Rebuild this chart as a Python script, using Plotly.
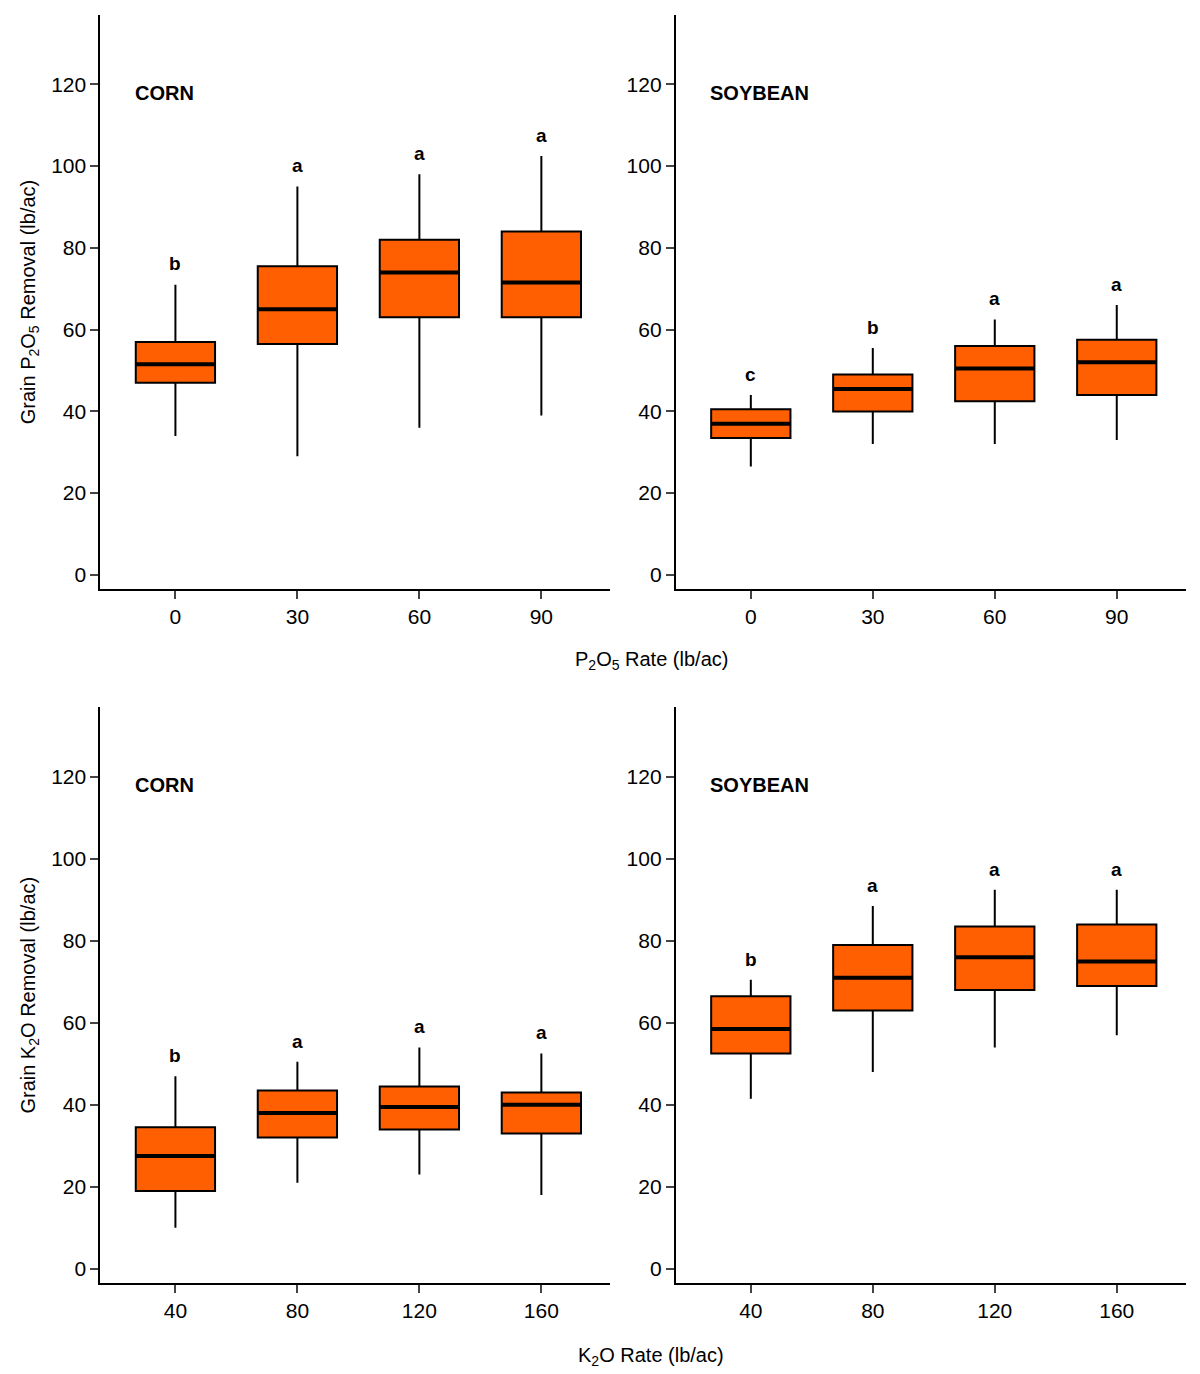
import plotly.graph_objects as go

p_rates = ["0", "30", "60", "90"]
k_rates = ["40", "80", "120", "160"]
panels = {
 "cornP": dict(lo=[34,29,36,39], q1=[47,56.5,63,63], med=[51.5,65,74,71.5], q3=[57,75.5,82,84], hi=[71,95,98,102.5], let=["b","a","a","a"], lab="CORN", ticks=p_rates),
 "soyP": dict(lo=[26.5,32,32,33], q1=[33.5,40,42.5,44], med=[37,45.5,50.5,52], q3=[40.5,49,56,57.5], hi=[44,55.5,62.5,66], let=["c","b","a","a"], lab="SOYBEAN", ticks=p_rates),
 "cornK": dict(lo=[10,21,23,18], q1=[19,32,34,33], med=[27.5,38,39.5,40], q3=[34.5,43.5,44.5,43], hi=[47,50.5,54,52.5], let=["b","a","a","a"], lab="CORN", ticks=k_rates),
 "soyK": dict(lo=[41.5,48,54,57], q1=[52.5,63,68,69], med=[58.5,71,76,75], q3=[66.5,79,83.5,84], hi=[70.5,88.5,92.5,92.5], let=["b","a","a","a"], lab="SOYBEAN", ticks=k_rates),
}
doms = {"cornP": ([0.077,0.502],[0.577,0.995]), "soyP": ([0.5565,0.9815],[0.577,0.995]),
        "cornK": ([0.077,0.502],[0.072,0.491]), "soyK": ([0.5565,0.9815],[0.072,0.491])}

fig = go.Figure()
shapes, annos = [], []
F = "Liberation Sans, Arial"
for i, (k, d) in enumerate(panels.items()):
    n = "" if i == 0 else str(i+1)
    xs = list(range(4))
    fig.add_trace(go.Box(x=xs, q1=d["q1"], median=d["med"], q3=d["q3"], lowerfence=d["lo"], upperfence=d["hi"],
                         width=0.65, fillcolor="#FF5F00", line=dict(color="black", width=2), whiskerwidth=0,
                         xaxis="x"+n, yaxis="y"+n, showlegend=False, hoverinfo="skip"))
    for j in xs:
        shapes.append(dict(type="line", xref="x"+n, yref="y"+n, x0=j-0.325, x1=j+0.325, y0=d["med"][j], y1=d["med"][j], line=dict(color="black", width=4)))
        annos.append(dict(xref="x"+n, yref="y"+n, x=j, y=d["hi"][j]+2, text="<b>"+d["let"][j]+"</b>", showarrow=False, yanchor="bottom", font=dict(size=19, family=F, color="black")))
    annos.append(dict(xref="x"+n, yref="y"+n, x=-0.35, y=118, text="<b>"+d["lab"]+"</b>", showarrow=False, xanchor="left", yanchor="middle", font=dict(size=20, family=F, color="black")))
    dx, dy = doms[k]
    ax = dict(domain=dx, range=[-0.615,3.566], tickvals=xs, ticktext=d["ticks"], showline=True, linecolor="black", linewidth=2,
              ticks="outside", ticklen=8, tickwidth=2, showgrid=False, zeroline=False, tickfont=dict(size=21, family=F, color="black"), anchor="y"+n)
    ay = dict(domain=dy, range=[-3.5,137], tickvals=[0,20,40,60,80,100,120], showline=True, linecolor="black", linewidth=2,
              ticks="outside", ticklen=8, tickwidth=2, showgrid=False, zeroline=False, tickfont=dict(size=21, family=F, color="black"), anchor="x"+n)
    if k == "cornP": ay["title"] = dict(text="Grain P<sub>2</sub>O<sub>5</sub> Removal (lb/ac)", font=dict(size=20, family=F, color="black"), standoff=10)
    if k == "cornK": ay["title"] = dict(text="Grain K<sub>2</sub>O Removal (lb/ac)", font=dict(size=20, family=F, color="black"), standoff=10)
    fig.layout["xaxis"+n] = ax
    fig.layout["yaxis"+n] = ay

annos.append(dict(xref="paper", yref="paper", x=0.536, y=0.525, text="P<sub>2</sub>O<sub>5</sub> Rate (lb/ac)", showarrow=False, font=dict(size=20, family=F, color="black")))
annos.append(dict(xref="paper", yref="paper", x=0.536, y=0.008, text="K<sub>2</sub>O Rate (lb/ac)", showarrow=False, font=dict(size=20, family=F, color="black")))
fig.update_layout(width=1200, height=1374, margin=dict(l=0, r=0, t=0, b=0), plot_bgcolor="white", paper_bgcolor="white",
                  shapes=shapes, annotations=annos, font=dict(family=F, color="black"))
fig.write_html("out.html")
